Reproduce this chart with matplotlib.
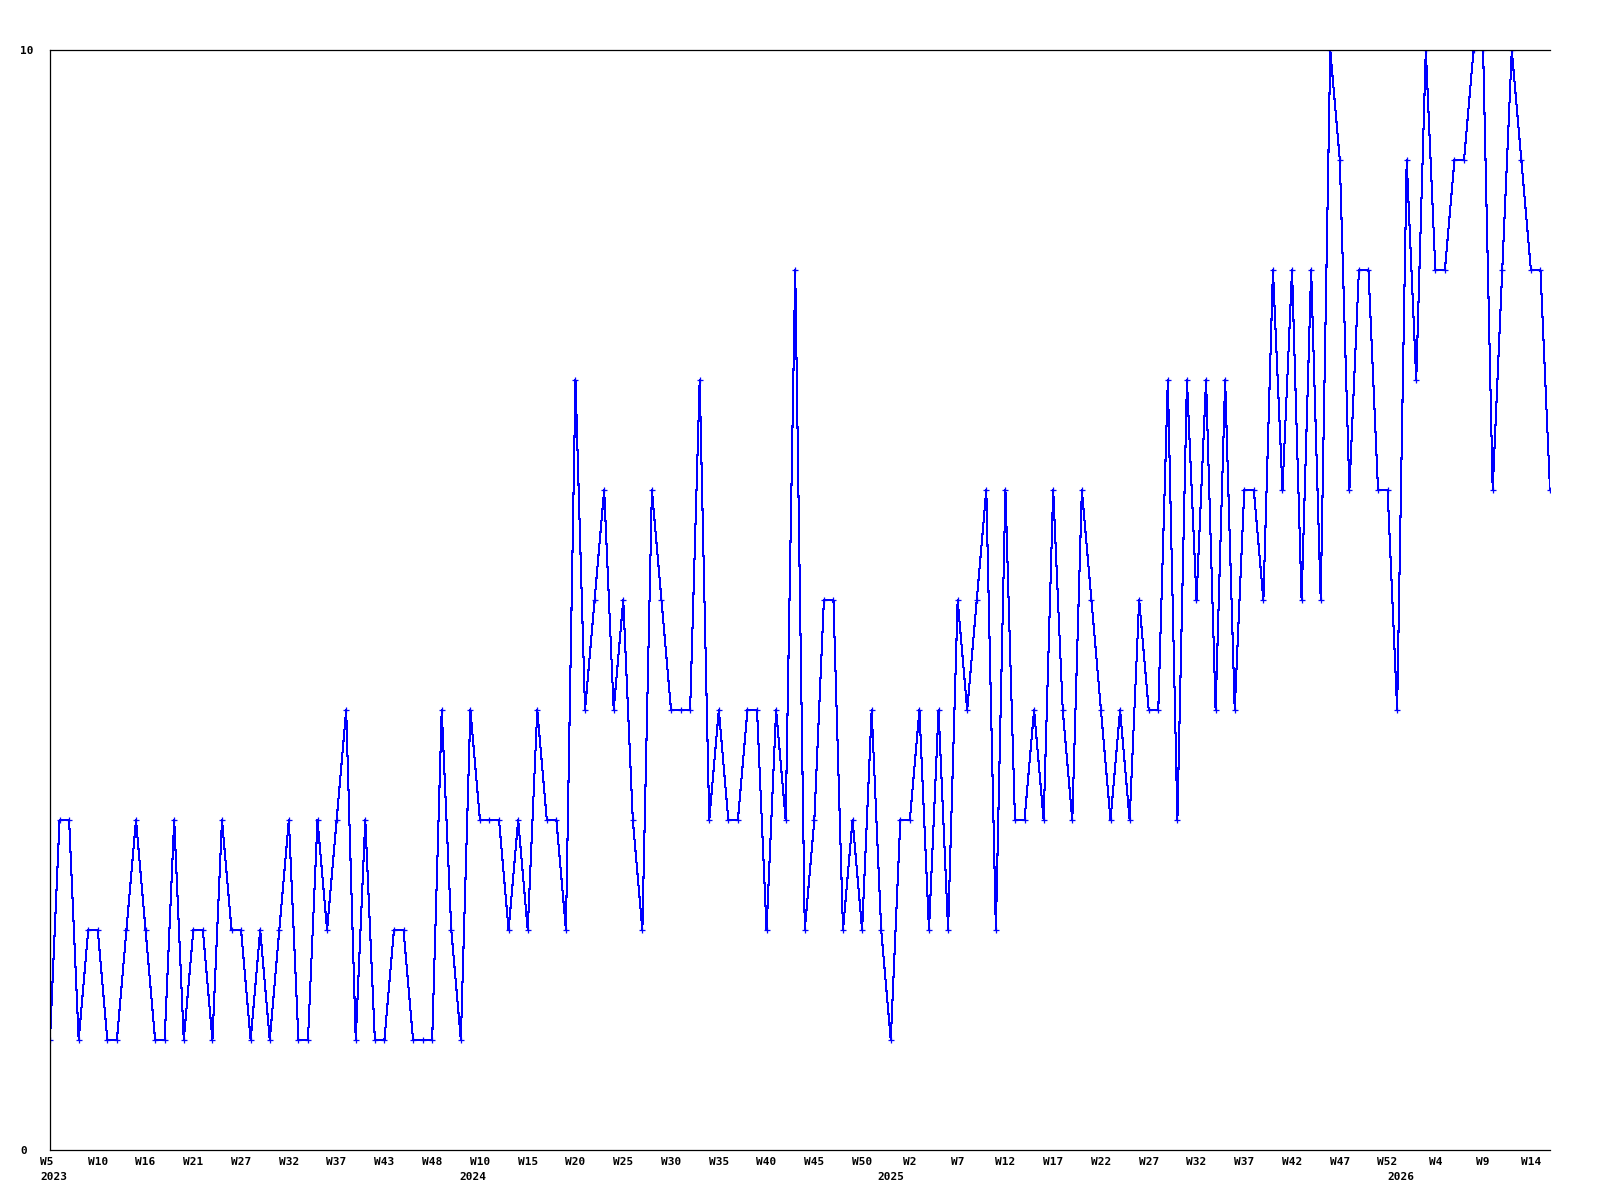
import matplotlib
matplotlib.use("Agg")
import matplotlib.pyplot as plt
from matplotlib.transforms import ScaledTranslation

values = [
    1, 3, 3, 1, 2, 2, 1, 1, 2, 3, 2, 1, 1, 3, 1, 2, 2, 1, 3, 2,
    2, 1, 2, 1, 2, 3, 1, 1, 3, 2, 3, 4, 1, 3, 1, 1, 2, 2, 1, 1,
    1, 4, 2, 1, 4, 3, 3, 3, 2, 3, 2, 4, 3, 3, 2, 7, 4, 5, 6, 4,
    5, 3, 2, 6, 5, 4, 4, 4, 7, 3, 4, 3, 3, 4, 4, 2, 4, 3, 8, 2,
    3, 5, 5, 2, 3, 2, 4, 2, 1, 3, 3, 4, 2, 4, 2, 5, 4, 5, 6, 2,
    6, 3, 3, 4, 3, 6, 4, 3, 6, 5, 4, 3, 4, 3, 5, 4, 4, 7, 3, 7,
    5, 7, 4, 7, 4, 6, 6, 5, 8, 6, 8, 5, 8, 5, 10, 9, 6, 8, 8, 6,
    6, 4, 9, 7, 10, 8, 8, 9, 9, 10, 10, 6, 8, 10, 9, 8, 8, 6,
]

week_labels = [
    "W5", "W10", "W16", "W21", "W27", "W32", "W37", "W43", "W48",
    "W10", "W15", "W20", "W25", "W30", "W35", "W40", "W45", "W50",
    "W2", "W7", "W12", "W17", "W22", "W27", "W32", "W37", "W42", "W47", "W52",
    "W4", "W9", "W14",
]
label_step = 5

years = ["2023", "2024", "2025", "2026"]
year_pos = [0.37, 44.3, 88.0, 141.4]

y_ticks = [0, 10]
y_tick_labels = ["0", "10"]

FONT = dict(family="DejaVu Sans Mono", weight="bold", size=8)

fig = plt.figure(figsize=(16, 12), dpi=100)
W, H = 1600, 1200
ax = fig.add_axes([50 / W, 50 / H, 1500 / W, 1100 / H])

x = list(range(len(values)))
ax.plot(x, values, color="#0000ff", linewidth=0.75, marker="+",
        markersize=4, markeredgewidth=0.9, antialiased=False)

ax.set_xlim(0, len(values) - 1)
ax.set_ylim(0, 10)

for s in ["left", "bottom", "top"]:
    ax.spines[s].set_color("black")
    ax.spines[s].set_linewidth(0.9)
ax.spines["right"].set_visible(False)

ax.set_xticks(list(range(0, label_step * len(week_labels), label_step)))
ax.set_xticklabels(week_labels, fontdict=FONT)
ax.tick_params(axis="x", length=0, pad=5)
lbls = ax.get_xticklabels()
lbls[0].set_transform(lbls[0].get_transform() +
                      ScaledTranslation(-3.5 / 100, 0, fig.dpi_scale_trans))

ax.set_yticks(y_ticks)
ax.set_yticklabels(y_tick_labels, fontdict=FONT)
ax.tick_params(axis="y", length=0, pad=21.6)
for t in ax.get_yticklabels():
    t.set_ha("left")

for yr, xp in zip(years, year_pos):
    ax.annotate(yr, xy=(xp, 0), xycoords=("data", "axes fraction"),
                xytext=(0, -16), textcoords="offset points",
                ha="center", va="top", annotation_clip=False, **FONT)

fig.savefig("out.png", dpi=100, facecolor="white")
